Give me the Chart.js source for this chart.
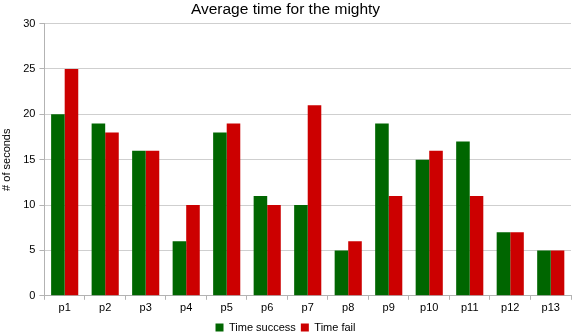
<!DOCTYPE html>
<html>
<head>
<meta charset="utf-8">
<script src="https://cdn.jsdelivr.net/npm/chart.js@4/dist/chart.umd.min.js"></script>
<style>
  html, body { margin: 0; padding: 0; background: #fff; }
  #wrap { width: 572px; height: 332px; }
</style>
</head>
<body>
<div id="wrap"><canvas id="chart"></canvas></div>
<script>
const categories = ['p1', 'p2', 'p3', 'p4', 'p5', 'p6', 'p7', 'p8', 'p9', 'p10', 'p11', 'p12', 'p13'];
const timeSuccess = [20, 19, 16, 6, 18, 11, 10, 5, 19, 15, 17, 7, 5];
const timeFail = [25, 18, 16, 10, 19, 10, 21, 6, 11, 16, 11, 7, 5];
const seriesNames = ['Time success', 'Time fail'];
const yMin = 0, yMax = 30, yStep = 5;

Chart.defaults.font.family = '"Liberation Sans", Arial, sans-serif';
Chart.defaults.color = '#000';

new Chart(document.getElementById('chart').getContext('2d'), {
  type: 'bar',
  data: {
    labels: categories,
    datasets: [
      { label: seriesNames[0], data: timeSuccess, backgroundColor: '#006600', borderWidth: 0 },
      { label: seriesNames[1], data: timeFail, backgroundColor: '#cc0000', borderWidth: 0 }
    ]
  },
  options: {
    responsive: true,
    maintainAspectRatio: false,
    animation: false,
    layout: { padding: { left: 0, right: 1, top: 0, bottom: -11 } },
    datasets: { bar: { categoryPercentage: 0.67, barPercentage: 1.0 } },
    plugins: {
      title: {
        display: true,
        text: 'Average time for the mighty',
        font: { size: 15.5, weight: 'normal' },
        padding: { top: 0, bottom: 5 }
      },
      legend: {
        position: 'bottom',
        labels: { boxWidth: 8, boxHeight: 8, font: { size: 11 }, padding: 5 }
      },
      tooltip: { enabled: false }
    },
    scales: {
      x: {
        offset: true,
        grid: {
          offset: true,
          color: ctx => ctx.index === categories.length ? '#c8c8c8' : 'rgba(0,0,0,0)',
          tickColor: '#b3b3b3',
          tickLength: 4
        },
        border: { color: '#b3b3b3' },
        ticks: { font: { size: 11 }, padding: 2 }
      },
      y: {
        min: yMin,
        max: yMax,
        ticks: { stepSize: yStep, font: { size: 11 }, padding: 4 },
        grid: { color: '#cfcfcf', tickColor: '#b3b3b3', tickLength: 5 },
        border: { color: '#b3b3b3' },
        title: { display: true, text: '# of seconds', font: { size: 11 }, padding: { top: 0, bottom: 6 } }
      }
    }
  }
});
</script>
</body>
</html>
